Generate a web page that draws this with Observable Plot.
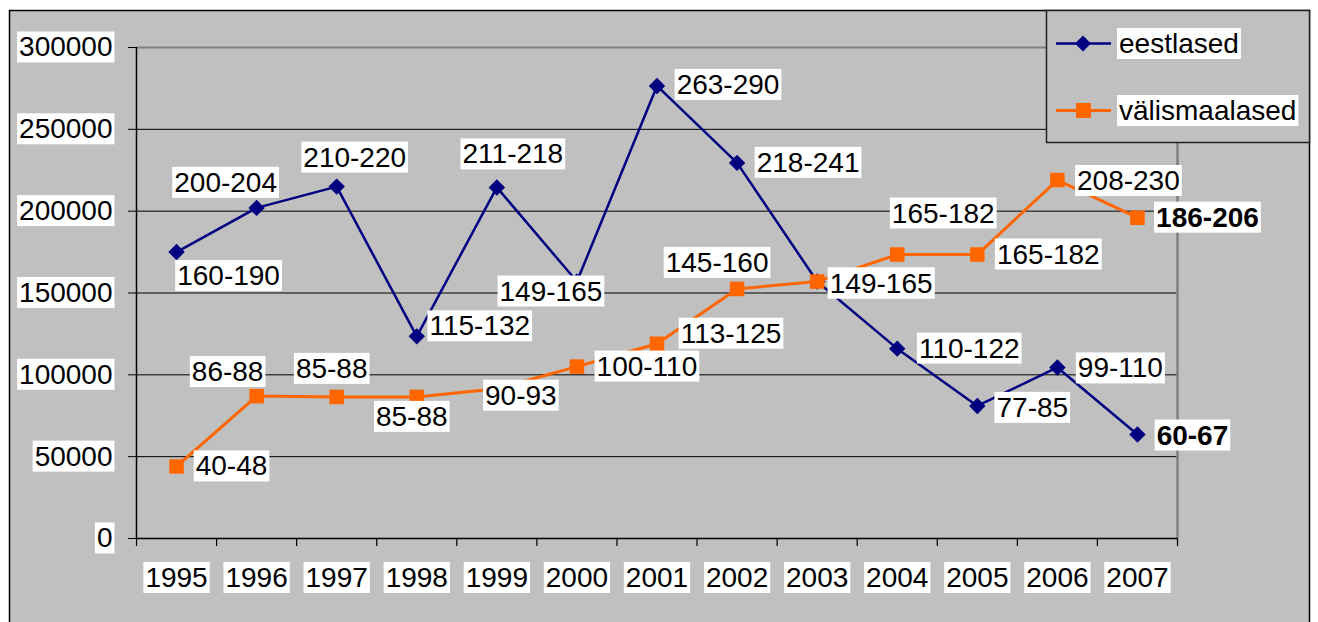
<!DOCTYPE html>
<html>
<head>
<meta charset="utf-8">
<script src="https://cdn.jsdelivr.net/npm/d3@7"></script>
<script src="https://cdn.jsdelivr.net/npm/@observablehq/plot@0.6"></script>
<style>
  html, body { margin: 0; padding: 0; background: #ffffff; }
  #chart svg { display: block; }
</style>
</head>
<body>
<div id="chart"></div>
<script>
// ---- data ----
const years = [1995, 1996, 1997, 1998, 1999, 2000, 2001, 2002, 2003, 2004, 2005, 2006, 2007];
const eestlased = [175000, 202000, 215000, 123500, 214500, 157000, 276500, 229500, 157000, 116000, 81000, 104500, 63500];
const valismaalased = [44000, 87000, 86500, 86500, 91500, 105000, 119000, 152500, 157000, 173500, 173500, 219000, 196000];
const eestlasedLabels = ["160-190", "200-204", "210-220", "115-132", "211-218", "149-165", "263-290", "218-241", "149-165", "110-122", "77-85", "99-110", "60-67"];
const valismaalasedLabels = ["40-48", "86-88", "85-88", "85-88", "90-93", "100-110", "113-125", "145-160", "149-165", "165-182", "165-182", "208-230", "186-206"];
const yTicks = [0, 50000, 100000, 150000, 200000, 250000, 300000];
const seriesNames = ["eestlased", "välismaalased"];

// ---- label placement (pixel offsets from each point) ----
const eestlasedLabelDx = [52, -31, 18, 63, 16, -26, 71, 71, 64, 72, 55, 63, 55];
const eestlasedLabelDy = [24, -25, -29, -10, -33, 10, -1, 0, 2, 0, 2, 1, 1];
const valisLabelDx = [55, -29, -5, -5, 24, 70, 74, -20, 64, 46, 71, 71, 70];
const valisLabelDy = [0, -24, -28, 20, 7, 0, -10, -26, 2, -41, 0, 1, 0];

// ---- style ----
const navy = "#000080";
const orange = "#FF6600";
const bg = "#C0C0C0";
const FONT = "Liberation Sans, Arial, Helvetica, sans-serif";
const FS = 28;

const idx = d3.range(years.length);
const boundaries = d3.range(years.length + 1).map(k => years[0] - 0.5 + k);
const xDomain = [years[0] - 0.5, years[years.length - 1] + 0.5];

const labelMarks = [];
idx.forEach(i => {
  labelMarks.push(Plot.text([i], {
    x: j => years[j], y: j => eestlased[j], text: j => eestlasedLabels[j],
    dx: eestlasedLabelDx[i], dy: eestlasedLabelDy[i],
    fontSize: FS, fill: "#000", textAnchor: "middle", lineAnchor: "middle",
    fontWeight: i === idx.length - 1 ? "bold" : "normal"
  }));
});
idx.forEach(i => {
  labelMarks.push(Plot.text([i], {
    x: j => years[j], y: j => valismaalased[j], text: j => valismaalasedLabels[j],
    dx: valisLabelDx[i], dy: valisLabelDy[i],
    fontSize: FS, fill: "#000", textAnchor: "middle", lineAnchor: "middle",
    fontWeight: i === idx.length - 1 ? "bold" : "normal"
  }));
});

const chart = Plot.plot({
  width: 1318,
  height: 622,
  marginLeft: 136,
  marginRight: 141,
  marginTop: 47,
  marginBottom: 84,
  style: { fontFamily: FONT, fontSize: FS + "px", background: "transparent", overflow: "visible" },
  x: { type: "linear", domain: xDomain, label: null, axis: null },
  y: { domain: [0, 300000], label: null, axis: null },
  marks: [
    // gridlines
    Plot.ruleY(yTicks.filter(v => v > 0 && v < 300000), { stroke: "#000", strokeWidth: 1 }),
    Plot.ruleY([300000], { stroke: "#808080", strokeWidth: 2 }),
    Plot.ruleX([xDomain[1]], { y1: 0, y2: 300000, stroke: "#808080", strokeWidth: 2.5 }),
    // axes
    Plot.axisY(yTicks, { tickSize: 8, tickPadding: 16, tickFormat: d => String(d), fontSize: FS, stroke: "#000" }),
    Plot.ruleX([xDomain[0]], { y1: 0, y2: 300000, stroke: "#000", strokeWidth: 1.5 }),
    Plot.ruleY([0], { stroke: "#000", strokeWidth: 1.5 }),
    Plot.ruleX(boundaries, { x: d => d, y1: 0, y2: 0, insetBottom: -8, stroke: "#000", strokeWidth: 1.2 }),
    Plot.text(years, { x: d => d, y: () => 0, text: d => String(d), dy: 39.5, fontSize: FS, fill: "#000", lineAnchor: "middle" }),
    // series
    Plot.line(idx, { x: i => years[i], y: i => eestlased[i], stroke: navy, strokeWidth: 2.5 }),
    Plot.dot(idx, { x: i => years[i], y: i => eestlased[i], symbol: "diamond2", r: 7.4, fill: navy, stroke: "none" }),
    Plot.line(idx, { x: i => years[i], y: i => valismaalased[i], stroke: orange, strokeWidth: 3 }),
    Plot.dot(idx, { x: i => years[i], y: i => valismaalased[i], symbol: "square", r: 8.2, fill: orange, stroke: "none" }),
    // data labels
    ...labelMarks
  ]
});

document.getElementById("chart").appendChild(chart);
const svg = d3.select(chart);

// chart area background with outer border
svg.insert("rect", ":first-child")
  .attr("x", 9.5).attr("y", 10.5).attr("width", 1300).attr("height", 700)
  .attr("fill", bg).attr("stroke", "#000").attr("stroke-width", 1.5);

// legend
const lg = svg.append("g").attr("font-family", FONT).attr("font-size", FS).attr("text-anchor", "start");
lg.append("rect")
  .attr("x", 1046.5).attr("y", 10.5).attr("width", 263).attr("height", 132)
  .attr("fill", bg).attr("stroke", "#222").attr("stroke-width", 1.5);
const legendRows = [
  { name: seriesNames[0], color: navy, y: 43.5, sw: 2.5, shape: "diamond" },
  { name: seriesNames[1], color: orange, y: 110.5, sw: 3, shape: "square" }
];
legendRows.forEach(r => {
  lg.append("line").attr("x1", 1056).attr("x2", 1111).attr("y1", r.y).attr("y2", r.y)
    .attr("stroke", r.color).attr("stroke-width", r.sw);
  if (r.shape === "diamond") {
    lg.append("path").attr("d", `M1083,${r.y - 8}L1091,${r.y}L1083,${r.y + 8}L1075,${r.y}Z`).attr("fill", r.color);
  } else {
    lg.append("rect").attr("x", 1076).attr("y", r.y - 7.5).attr("width", 15).attr("height", 15).attr("fill", r.color);
  }
  lg.append("text").attr("x", 1119).attr("y", r.y).attr("dy", "0.34em")
    .attr("text-anchor", "start").attr("fill", "#000").text(r.name);
});

// white boxes behind every text
chart.querySelectorAll("text").forEach(t => {
  const b = t.getBBox();
  if (!b.width) return;
  const rect = document.createElementNS("http://www.w3.org/2000/svg", "rect");
  rect.setAttribute("x", b.x - 2);
  rect.setAttribute("y", b.y);
  rect.setAttribute("width", b.width + 4);
  rect.setAttribute("height", b.height);
  rect.setAttribute("fill", "#ffffff");
  rect.setAttribute("stroke", "none");
  const tr = t.getAttribute("transform");
  if (tr) rect.setAttribute("transform", tr);
  t.parentNode.insertBefore(rect, t);
});
</script>
</body>
</html>
